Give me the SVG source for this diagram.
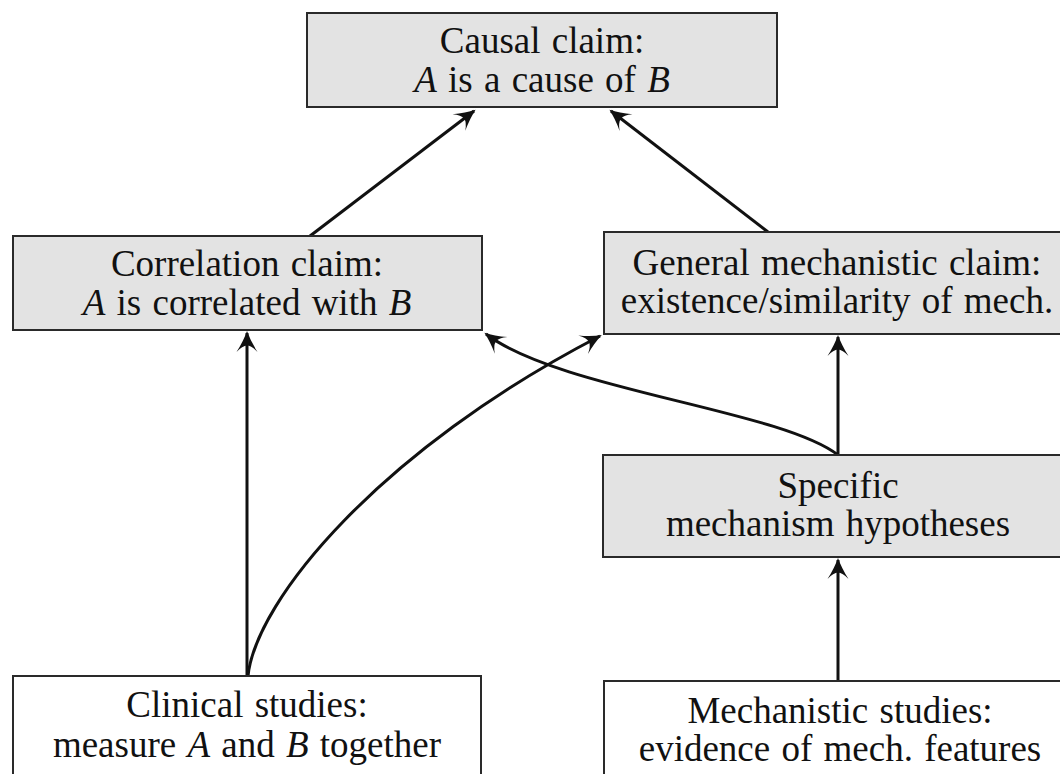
<svg xmlns="http://www.w3.org/2000/svg" width="1060" height="774" viewBox="0 0 1060 774">
<style>
.box{stroke:#2a2a2a;stroke-width:2}
.g{fill:#e3e3e3}
.w{fill:#ffffff}
.t{font-family:"Liberation Serif","Times New Roman",serif;font-size:37px;fill:#111;text-anchor:middle;word-spacing:2px}
.i{font-style:italic}
.c{fill:none;stroke:#111;stroke-width:3}
</style>
<defs>
<marker id="ah" markerUnits="userSpaceOnUse" viewBox="-22 -12 25 24" refX="0" refY="0" markerWidth="25" markerHeight="24" orient="auto">
<path d="M2,0 Q-8,-3.5 -19,-10.5 Q-12.5,-4.5 -12.5,0 Q-12.5,4.5 -19,10.5 Q-8,3.5 2,0 Z" fill="#111"/>
</marker>
</defs>
<rect width="1060" height="774" fill="#fff"/>
<g id="connectors">
<line class="c" x1="310" y1="236" x2="474" y2="111" marker-end="url(#ah)"/>
<line class="c" x1="768" y1="232" x2="611" y2="111" marker-end="url(#ah)"/>
<line class="c" x1="247" y1="676" x2="247" y2="333" marker-end="url(#ah)"/>
<path class="c" d="M248,676 C256,600 380,450 600,336" marker-end="url(#ah)"/>
<path class="c" d="M838,455 C780,410 560,390 486,334" marker-end="url(#ah)"/>
<line class="c" x1="838" y1="455" x2="838" y2="337" marker-end="url(#ah)"/>
<line class="c" x1="838" y1="681" x2="838" y2="560" marker-end="url(#ah)"/>
</g>
<g id="causal">
<rect class="box g" x="307" y="13" width="470" height="94"/>
<text class="t" x="542" y="53">Causal claim:</text>
<text class="t" x="542" y="92"><tspan class="i">A</tspan> is a cause of <tspan class="i">B</tspan></text>
</g>
<g id="correlation">
<rect class="box g" x="13" y="236" width="469" height="94"/>
<text class="t" x="247" y="276">Correlation claim:</text>
<text class="t" x="247" y="315"><tspan class="i">A</tspan> is correlated with <tspan class="i">B</tspan></text>
</g>
<g id="general">
<rect class="box g" x="604" y="232" width="470" height="102"/>
<text class="t" x="837" y="275">General mechanistic claim:</text>
<text class="t" x="837" y="313">existence/similarity of mech.</text>
</g>
<g id="specific">
<rect class="box g" x="603" y="455" width="470" height="102"/>
<text class="t" x="838" y="498">Specific</text>
<text class="t" x="838" y="536">mechanism hypotheses</text>
</g>
<g id="clinical">
<rect class="box w" x="13" y="676" width="468" height="120"/>
<text class="t" x="247" y="717">Clinical studies:</text>
<text class="t" x="247" y="757">measure <tspan class="i">A</tspan> and <tspan class="i">B</tspan> together</text>
</g>
<g id="mechanistic">
<rect class="box w" x="604" y="681" width="470" height="120"/>
<text class="t" x="840" y="723">Mechanistic studies:</text>
<text class="t" x="840" y="761">evidence of mech. features</text>
</g>
</svg>
